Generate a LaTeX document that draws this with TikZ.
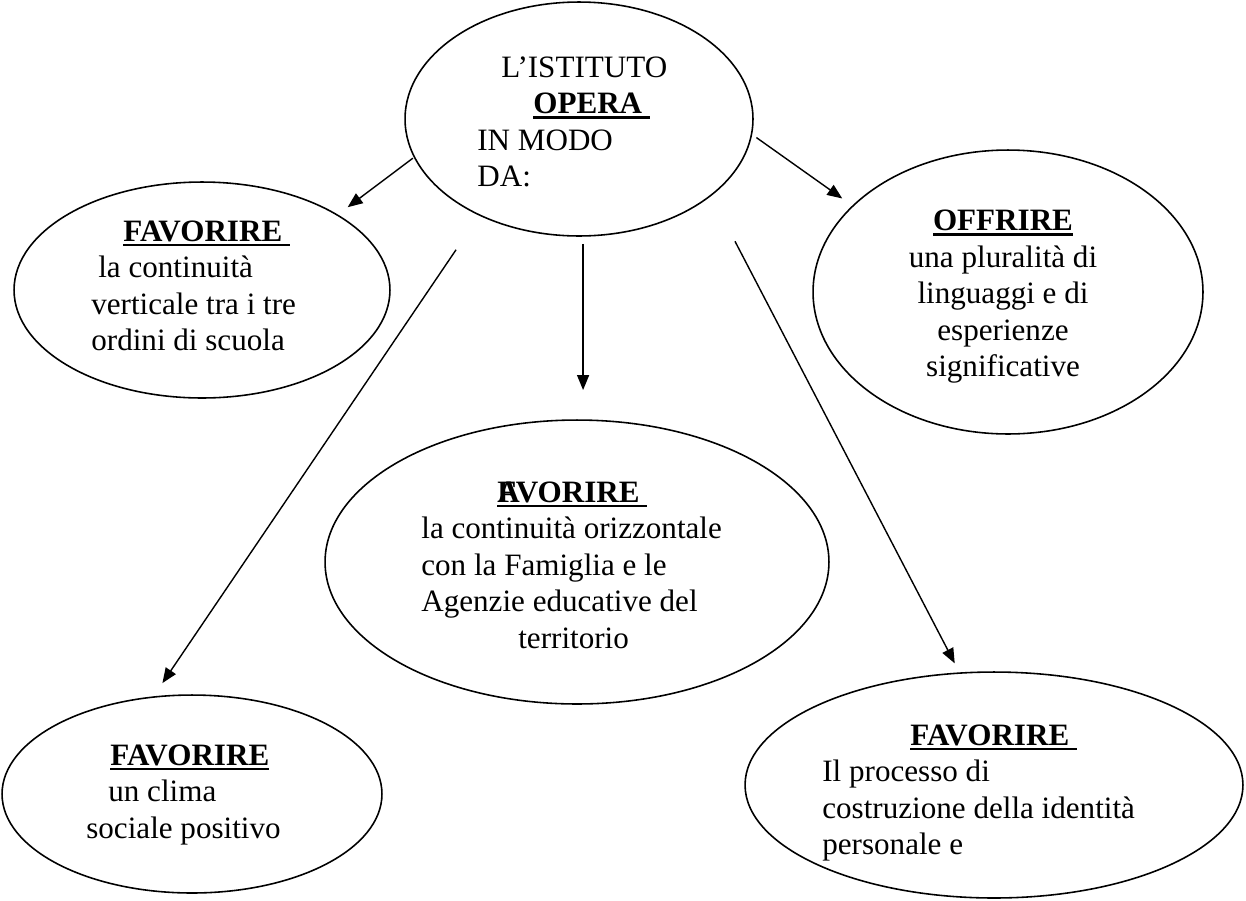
\documentclass[tikz,border=0pt]{standalone}
\usepackage{fontspec}
\setmainfont{Liberation Serif}
\usetikzlibrary{shapes.geometric,arrows.meta}

\newsavebox{\hdbox}
\newcommand{\headul}[1]{\sbox{\hdbox}{\bfseries #1}\rlap{\rule[-2.8pt]{\wd\hdbox}{1.5pt}}\usebox{\hdbox}}

\tikzset{
  bubble/.style={ellipse, draw, line width=0.9pt, inner sep=0pt, outer sep=0pt},
  txt/.style={anchor=north west, inner sep=0pt, align=left, font=\fontsize{17.7}{20.8}\selectfont},
  arr/.style={-{Triangle[length=0.3cm,width=0.24cm]}, line width=0.8pt}
}

\begin{document}
\begin{tikzpicture}[x=0.02cm, y=-0.02cm]
\useasboundingbox (0,0) rectangle (1246,900);

% ellipses
\node[bubble, minimum width=6.96cm, minimum height=4.68cm] (ist) at (579,119) {};
\node[bubble, minimum width=7.52cm, minimum height=4.32cm] (vert) at (202,290) {};
\node[bubble, minimum width=7.8cm, minimum height=5.68cm] (offr) at (1008,292) {};
\node[bubble, minimum width=10.08cm, minimum height=5.68cm] (oriz) at (577,562) {};
\node[bubble, minimum width=7.6cm, minimum height=3.96cm] (clima) at (192,794) {};
\node[bubble, minimum width=9.96cm, minimum height=4.52cm] (ident) at (994,785) {};

% texts
\node[txt] (tist) at (477,51.3) {\strut\hspace*{0.48cm}L’ISTITUTO\\ \hspace*{1.12cm}\headul{OPERA\ }\\ IN MODO\\ DA:};
\node[txt] (tvert) at (91,215.3) {\strut\hspace*{0.64cm}\headul{FAVORIRE\ }\\ \hspace*{0.14cm}la continuità\\ verticale tra i tre\\ ordini di scuola};
\node[txt, anchor=north, align=center] (toffr) at (1003,204.8) {\strut\headul{OFFRIRE}\\ una pluralità di\\ linguaggi e di\\ esperienze\\ significative};
\node[txt] (toriz) at (421,476.3) {\strut\hspace*{1.52cm}\headul{\rlap{F}AVORIRE\ }\\ la continuità orizzontale\\ con la Famiglia e le\\ Agenzie educative del\\ \hspace*{1.94cm}territorio};
\node[txt] (tclima) at (86,739.3) {\strut\hspace*{0.48cm}\headul{FAVORIRE}\\ \hspace*{0.44cm}un clima\\ sociale positivo};
\node[txt] (tident) at (822,719.3) {\strut\hspace*{1.76cm}\headul{FAVORIRE\ }\\ Il processo di\\ costruzione della identità\\ personale e};

% arrows
\draw[arr, shorten <=0.04cm, shorten >=0.26cm] (ist.193) -- (vert.29);
\draw[arr, shorten <=0.12cm, shorten >=0.26cm] (ist.355) -- (offr.151);
\draw[arr, shorten <=0.16cm, shorten >=0.6cm] (ist.272) -- (ist.272 |- oriz.north);
\draw[arr, shorten <=0.84cm, shorten >=0.34cm] (ist.224) -- (clima.112);
\draw[arr, shorten <=1.04cm, shorten >=0.22cm] (ist.330) -- (ident.107);
\end{tikzpicture}
\end{document}
